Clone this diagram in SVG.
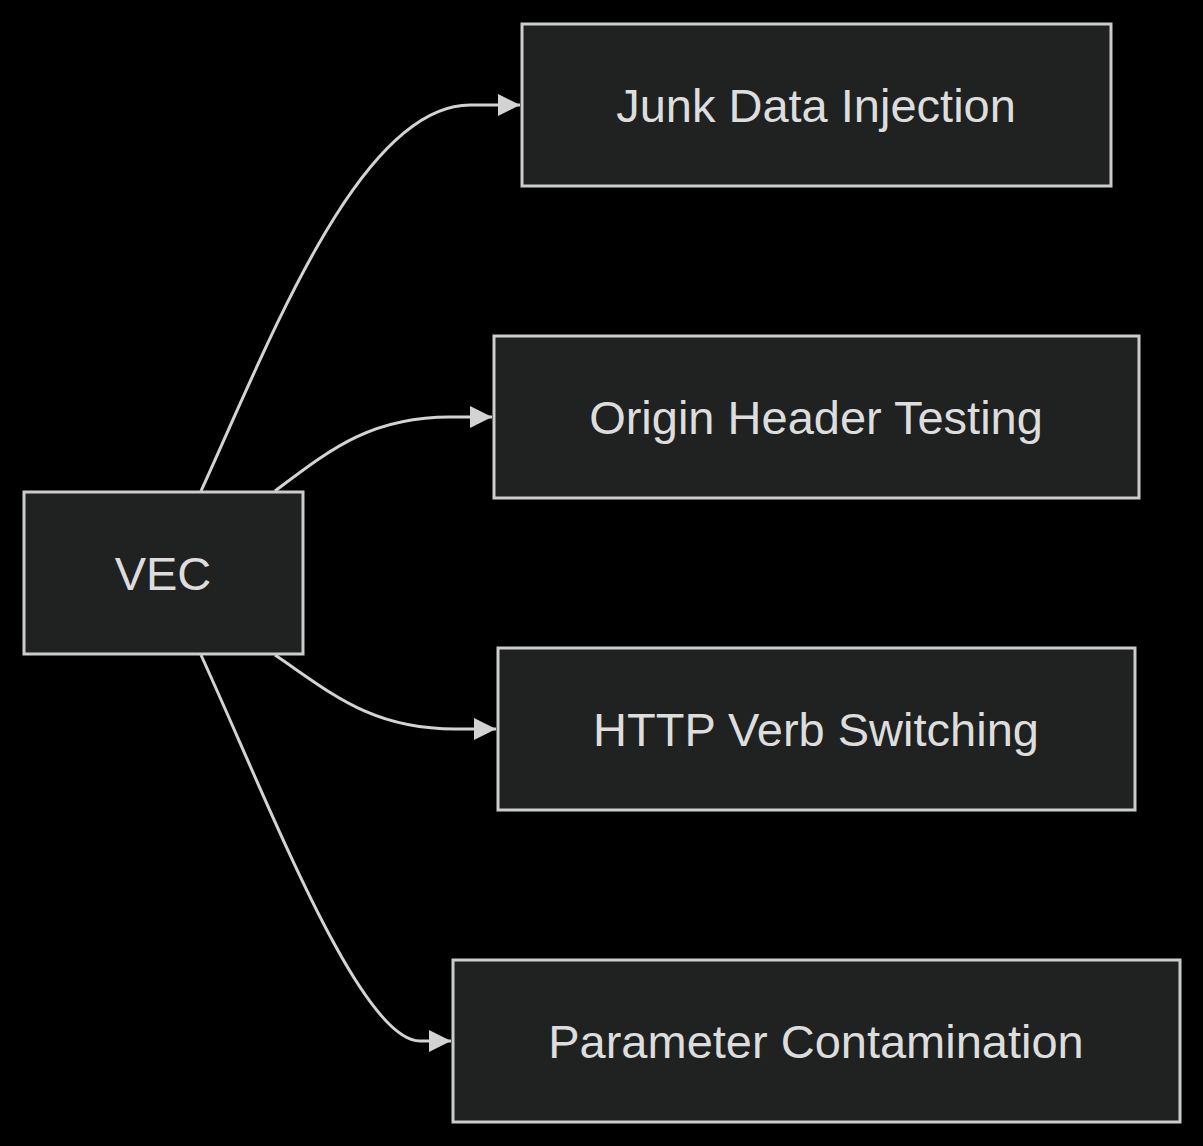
<svg xmlns="http://www.w3.org/2000/svg" width="1203" height="1146" viewBox="0 0 1203 1146">
<style>
.n rect{fill:#202222;stroke:#cccccc;stroke-width:3}
.n text{font-family:"Liberation Sans",Arial,sans-serif;font-size:47px;fill:#dddddd;text-anchor:middle;dominant-baseline:central}
.e path{fill:none;stroke:#d3d3d3;stroke-width:3}
</style>
<defs>
<marker id="a" markerUnits="userSpaceOnUse" markerWidth="24" markerHeight="24" refX="22" refY="12" orient="auto">
<path d="M0,1 L22,12 L0,23 Z" fill="#d3d3d3"/>
</marker>
</defs>
<rect width="1203" height="1146" fill="#000"/>
<g class="e">
<path d="M201,491 C270,340 360,105 470,105 L520,105" marker-end="url(#a)"/>
<path d="M275,491 C330,450 370,417 450,417 L492,417" marker-end="url(#a)"/>
<path d="M275,655 C330,692 370,729 455,729 L496,729" marker-end="url(#a)"/>
<path d="M201,655 C270,806 360,1041 420,1041 L451,1041" marker-end="url(#a)"/>
</g>
<g id="vec" class="n"><rect x="24" y="492" width="279" height="162"/><text x="163" y="573">VEC</text></g>
<g id="junk" class="n"><rect x="522" y="24" width="589" height="162"/><text x="816" y="105">Junk Data Injection</text></g>
<g id="origin" class="n"><rect x="494" y="336" width="645" height="162"/><text x="816" y="417">Origin Header Testing</text></g>
<g id="http" class="n"><rect x="498" y="648" width="637" height="162"/><text x="816" y="729">HTTP Verb Switching</text></g>
<g id="param" class="n"><rect x="453" y="960" width="727" height="162"/><text x="816" y="1041">Parameter Contamination</text></g>
</svg>
